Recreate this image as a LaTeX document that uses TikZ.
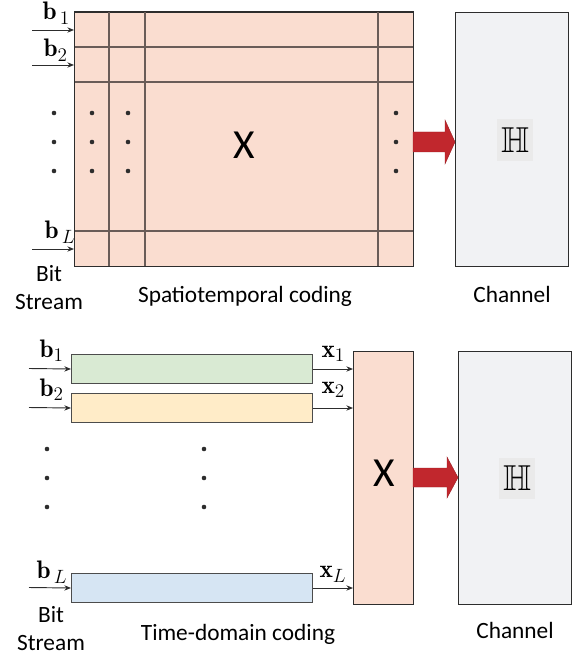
\documentclass[tikz,border=0pt]{standalone}
\usepackage{amssymb}
\usepackage{fontspec}
\newfontfamily\cfont{Carlito}
\usetikzlibrary{arrows.meta}

\definecolor{matfill}{RGB}{250,221,208}
\definecolor{chanfill}{RGB}{241,242,244}
\definecolor{barA}{RGB}{217,234,211}
\definecolor{barB}{RGB}{255,236,200}
\definecolor{barC}{RGB}{214,229,243}
\definecolor{fatred}{RGB}{193,39,45}
\definecolor{hgray}{RGB}{234,234,234}
\definecolor{gridgray}{RGB}{105,92,88}
\definecolor{edgegray}{RGB}{45,45,45}

\tikzset{every picture/.style={line width=0.75pt}}
\tikzset{
  matbox/.style={draw=edgegray,fill=matfill,inner sep=0pt,anchor=north west},
  chanbox/.style={draw=edgegray,fill=chanfill,inner sep=0pt,anchor=north west,minimum width=84.75pt},
  codebar/.style={draw=edgegray!85,inner sep=0pt,anchor=north west,minimum width=180.75pt,minimum height=21.75pt},
  gridline/.style={draw=gridgray,line width=1.1pt},
  bitarrow/.style={draw=edgegray,line width=0.7pt,-{Stealth[length=5pt,width=4pt]}},
  fatarrow/.style={fill=fatred,draw=fatred!80!black,line width=0.3pt},
  lbl/.style={inner sep=0pt,anchor=base west,font=\fontsize{19}{21}\selectfont},
  capt/.style={inner sep=0pt,anchor=base,font=\cfont\fontsize{17.5}{21}\selectfont},
  bitcapt/.style={inner sep=0pt,anchor=north,align=center,font=\cfont\fontsize{17.5}{21}\selectfont},
  bigX/.style={inner sep=0pt,font=\cfont\fontsize{31}{33}\selectfont},
  hsym/.style={fill=hgray,inner sep=0pt,minimum width=27pt,minimum height=30.75pt,font=\fontsize{27}{30}\selectfont}
}

\begin{document}
\begin{tikzpicture}[x=0.75pt,y=0.75pt,yscale=-1,xscale=1]
\path[use as bounding box] (0,0) rectangle (576,656);

%%% Spatiotemporal coding (top)
%Shape: Rectangle [matrix]
\node (stmat) [matbox,minimum width=254.25pt,minimum height=190.5pt] at (74,12) {};
%Shape: grid lines
\foreach \y in {47,82,231} \draw[gridline] (74,\y) -- (413,\y);
\foreach \x in {109,145,378} \draw[gridline] (\x,12) -- (\x,266);
\draw[edgegray] (74,12) rectangle (413,266);
%Shape: dots
\foreach \y in {113,142,171} {
  \fill[edgegray] (54,\y) circle (2.3);
  \fill[edgegray] (92,\y) circle (2.3);
  \fill[edgegray] (128,\y) circle (2.3);
  \fill[edgegray] (396,\y) circle (2.3);
}
% Text Node
\node (stX) [bigX] at (244,145) {X};

%Straight Lines [bit inputs]
\coordinate (stin1) at (32,30);
\coordinate (stin2) at (32,65);
\coordinate (stinL) at (32,249);
\draw[bitarrow] (stin1) -- (stin1 -| stmat.west);
\draw[bitarrow] (stin2) -- (stin2 -| stmat.west);
\draw[bitarrow] (stinL) -- (stinL -| stmat.west);
% Text Node
\node (stb1) [lbl] at (42,20) {$\mathbf{b}_{\,1}$};
\node (stb2) [lbl] at (43,57) {$\mathbf{b}_{2}$};
\node (stbL) [lbl] at (44,238) {$\mathbf{b}_{\,L}$};

%Shape: Rectangle [channel]
\node (stch) [chanbox,minimum height=190.5pt] at (455,12) {};
\node (stH) [hsym] at (515,140) {$\mathbb{H}$};
%Shape: Right Arrow
\filldraw[fatarrow] (413,132) -- (445,132) -- (445,120) -- (455,142) -- (445,164) -- (445,152) -- (413,152) -- cycle;

% Text Node
\node (stbit) [bitcapt] at (49,265) {Bit\\Stream};
\node (stcap) [capt] at (245,302) {Spatiotemporal coding};
\node (stchcap) [capt] at (512,302) {Channel};

%%% Time-domain coding (bottom)
%Shape: Rectangle [bars]
\node (tdbar1) [codebar,fill=barA] at (71,354) {};
\node (tdbar2) [codebar,fill=barB] at (71,393) {};
\node (tdbarL) [codebar,fill=barC] at (71,573) {};
%Shape: Rectangle [X]
\node (tdX) [matbox,minimum width=45pt,minimum height=189.75pt] at (353,351) {};
\node (tdXl) [bigX] at (384,473) {X};
%Shape: dots
\foreach \y in {449,478,507} {
  \fill[edgegray] (47,\y) circle (2.3);
  \fill[edgegray] (204,\y) circle (2.3);
}

%Straight Lines [bit inputs]
\coordinate (tdin1) at (29,368.5);
\coordinate (tdin2) at (29,407.5);
\coordinate (tdinL) at (29,587.5);
\draw[bitarrow] (tdin1) -- (tdbar1.west);
\draw[bitarrow] (tdin2) -- (tdbar2.west);
\draw[bitarrow] (tdinL) -- (tdbarL.west);
%Straight Lines [outputs]
\draw[bitarrow] (tdbar1.east) -- (tdbar1.east -| tdX.west);
\draw[bitarrow] (tdbar2.east) -- (tdbar2.east -| tdX.west);
\draw[bitarrow] (tdbarL.east) -- (tdbarL.east -| tdX.west);
% Text Node
\node (tdb1) [lbl] at (39,357) {$\mathbf{b}_{1}$};
\node (tdb2) [lbl] at (39,396) {$\mathbf{b}_{2}$};
\node (tdbL) [lbl] at (36,578) {$\mathbf{b}_{\,L}$};
\node (tdx1) [lbl] at (321,357) {$\mathbf{x}_{1}$};
\node (tdx2) [lbl] at (321,393) {$\mathbf{x}_{2}$};
\node (tdxL) [lbl] at (319,577) {$\mathbf{x}_{L}$};

%Shape: Rectangle [channel]
\node (tdch) [chanbox,minimum height=189.75pt] at (458,351) {};
\node (tdH) [hsym] at (517,478) {$\mathbb{H}$};
%Shape: Right Arrow
\filldraw[fatarrow] (413,468) -- (447,468) -- (447,457) -- (458,477.5) -- (447,498) -- (447,487) -- (413,487) -- cycle;

% Text Node
\node (tdbit) [bitcapt] at (51,606) {Bit\\Stream};
\node (tdcap) [capt] at (238,640) {Time-domain coding};
\node (tdchcap) [capt] at (515,638) {Channel};

\end{tikzpicture}
\end{document}
